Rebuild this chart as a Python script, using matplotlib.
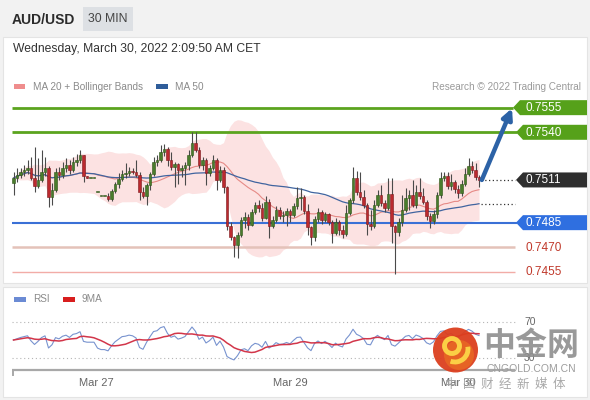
import numpy as np
import pandas as pd
import matplotlib
matplotlib.use("Agg")
import matplotlib.pyplot as plt
from matplotlib.patches import Rectangle, Polygon, Circle, FancyArrowPatch, Arc

plt.rcParams['font.family'] = ['Liberation Sans', 'Noto Sans CJK SC', 'DejaVu Sans']

# ---------------- data ----------------
symbol = "AUD/USD"
interval = "30 MIN"
timestamp = "Wednesday, March 30, 2022 2:09:50 AM CET"

opens = [
    .75092, .75122, .7514, .75159, .75171, .75183, .75122, .75073, .7511, .75159,
    .75183, .75006, .75049, .75159, .7514, .75183, .75201, .75171, .7522, .75232,
    .75262, .75134, .75122, .75122, .75037, .75013, .75013, .75013, .74994, .75043,
    .75086, .75116, .75147, .75153, .75165, .75159, .7514, .75037, .75013, .7508,
    .75147, .7522, .75232, .75281, .75299, .75232, .75189, .75207, .75171, .75183,
    .75201, .75262, .75335, .75293, .75201, .75232, .75153, .75183, .75232, .7511,
    .75171, .75067, .7483, .74763, .74714, .74775, .74866, .74884, .74836, .74915,
    .74958, .74939, .74878, .74976, .7483, .74866, .74927, .74891, .74897, .74921,
    .74897, .74951, .75, .75006, .74921, .74824, .74763, .74872, .74915, .74866,
    .74903, .74854, .74787, .74854, .74805, .74781, .74909, .74988, .75122, .75037,
    .75006, .74958, .74842, .7483, .74958, .75019, .7497, .74939, .75025, .7483,
    .74793, .74854, .74927, .75, .75019, .74958, .75037, .75013, .74976, .74891,
    .7486, .74903, .75019, .75122, .75134, .75073, .75098, .75055, .75031, .75086,
    .75147, .75195, .75171, .75128,
]
highs = [
    .75159, .75183, .75183, .75201, .75232, .7525, .75311, .75244, .75293, .7525,
    .75195, .75092, .75183, .75189, .7522, .75244, .75232, .7525, .75268, .75293,
    .75262, .75134, .75122, .75122, .75037, .75013, .75013, .75031, .75055, .75098,
    .75153, .75171, .75214, .75189, .75183, .75232, .75159, .75067, .75092, .75159,
    .7525, .75262, .75323, .75329, .75311, .75281, .7522, .75214, .75201, .7522,
    .75293, .75402, .75402, .75311, .7525, .75244, .75201, .75262, .75244, .75195,
    .75189, .75073, .74854, .74769, .74793, .74884, .74915, .74903, .74933, .74976,
    .74988, .7497, .75013, .74994, .74891, .74951, .74945, .74921, .74939, .74933,
    .7497, .75067, .75061, .75019, .74964, .7483, .74891, .74939, .74927, .74915,
    .74909, .74866, .74878, .74866, .74836, .74958, .75, .75189, .75165, .75159,
    .75049, .7497, .74927, .74988, .75049, .7508, .74988, .75122, .75122, .74836,
    .74878, .75019, .75061, .75049, .7511, .7508, .75122, .75061, .74988, .74909,
    .74927, .75037, .75159, .75159, .75159, .75147, .7511, .7508, .7511, .75183,
    .75244, .75226, .75214, .7514,
]
lows = [
    .75019, .75098, .75122, .75134, .75147, .7511, .75037, .75061, .75098, .75134,
    .74945, .74958, .75037, .7511, .75122, .75159, .75147, .75159, .75195, .75214,
    .75098, .75122, .75122, .75122, .75037, .75013, .75013, .74982, .74982, .75031,
    .75061, .75104, .75122, .75134, .75147, .75128, .74988, .75, .74958, .75049,
    .75134, .75195, .7522, .75256, .75195, .75171, .75067, .75086, .75128, .7508,
    .75171, .7525, .75281, .75183, .75171, .7508, .75134, .75171, .75049, .75098,
    .75031, .74805, .74745, .74641, .74635, .74763, .74817, .74805, .7483, .74903,
    .74915, .7486, .74872, .74757, .74817, .74854, .74872, .74854, .7483, .74854,
    .74884, .74933, .74927, .74903, .74775, .74714, .74739, .74854, .74842, .74854,
    .74836, .74726, .74775, .74775, .74757, .74769, .74897, .7497, .75019, .74988,
    .74939, .74775, .74805, .74817, .74945, .74951, .74915, .74927, .74726, .74535,
    .74769, .7483, .74915, .74927, .74945, .74939, .74994, .74964, .74866, .74817,
    .74842, .74878, .75, .75104, .75055, .75049, .75031, .75, .75013, .75073,
    .75134, .75153, .7511, .75067,
]
closes = [
    .75122, .7514, .75159, .75171, .75183, .75122, .75073, .7511, .75159, .75183,
    .75006, .75049, .75159, .7514, .75183, .75201, .75171, .7522, .75232, .75262,
    .75134, .75122, .75122, .75122, .75037, .75013, .75013, .74994, .75043, .75086,
    .75116, .75147, .75153, .75165, .75159, .7514, .75037, .75013, .7508, .75147,
    .7522, .75232, .75281, .75299, .75232, .75189, .75207, .75171, .75183, .75201,
    .75262, .75335, .75293, .75201, .75232, .75153, .75183, .75232, .7511, .75171,
    .75067, .7483, .74763, .74714, .74775, .74866, .74884, .74836, .74915, .74958,
    .74939, .74878, .74976, .7483, .74866, .74927, .74891, .74897, .74921, .74897,
    .74951, .75, .75006, .74921, .74824, .74763, .74872, .74915, .74866, .74903,
    .74854, .74787, .74854, .74805, .74781, .74909, .74988, .75122, .75037, .75006,
    .74958, .74842, .7483, .74958, .75019, .7497, .74939, .75025, .7483, .74793,
    .74854, .74927, .75, .75019, .74958, .75037, .75013, .74976, .74891, .7486,
    .74903, .75019, .75122, .75134, .75073, .75098, .75055, .75031, .75086, .75147,
    .75195, .75171, .75128, .7511,
]

resistance_levels = [0.7555, 0.7540]
pivot_level = 0.7485
support_levels = [0.7470, 0.7455]
last_price = 0.7511

day_labels = ["Mar 27", "Mar 29", "Mar 30"]
day_positions = [23.6, 79, 127]      # candle index where each label sits
rsi_levels = [70, 30]

# ---------------- layout helpers ----------------
W, H = 590, 400
PX0, STEP = 13.5, 3.5                 # pixel x of first candle, pixels per candle


def xi(px):
    return (px - PX0) / STEP


o = np.array(opens); h = np.array(highs); l = np.array(lows); c = np.array(closes)
n = len(c)
x = np.arange(n)
cs = pd.Series(c)
ma20 = cs.rolling(20, min_periods=1).mean()
sd20 = cs.rolling(20, min_periods=2).std(ddof=0).fillna(0)
upper = ma20 + 2 * sd20
lower = ma20 - 2 * sd20
ma50 = cs.rolling(50, min_periods=1).mean()

# Wilder RSI(14), started from a neutral state (equal average gain and loss)
delta = np.diff(c, prepend=c[0])
seed = np.abs(delta[1:]).mean() / 2
ag, al = seed, seed
rsi_vals = []
for d in delta:
    ag = (ag * 13 + max(d, 0)) / 14
    al = (al * 13 + max(-d, 0)) / 14
    rsi_vals.append(100 - 100 / (1 + ag / al))
rsi = pd.Series(rsi_vals)
rsi_ma = rsi.rolling(9, min_periods=1).mean()

fig = plt.figure(figsize=(W / 100, H / 100), dpi=100)
fig.patch.set_facecolor('#f2f2f2')

# background panels (pixel coordinates)
bg = fig.add_axes([0, 0, 1, 1], zorder=0)
bg.set_xlim(0, W); bg.set_ylim(H, 0); bg.axis('off')
bg.add_patch(Rectangle((3, 37), 584, 246, fc='white', ec='#e4e4e4', lw=0.8))
bg.add_patch(Rectangle((3, 287), 584, 110, fc='white', ec='#e4e4e4', lw=0.8))
bg.add_patch(Rectangle((83, 7), 50, 24, fc='#dde0e4', ec='none'))
bg.text(12, 19.5, symbol, fontsize=10, fontweight='bold', color='#2b2b2b', va='center')
bg.text(108, 19.5, interval, fontsize=8.8, color='#444444', va='center', ha='center')
bg.text(13, 49, timestamp, fontsize=8.7, color='#333333', va='center')
# legend
bg.add_patch(Rectangle((14, 84), 11, 4.5, fc='#ef8d8d', ec='none'))
bg.text(33, 86.5, "MA 20 + Bollinger Bands", fontsize=7.2, color='#8a8a8a', va='center')
bg.add_patch(Rectangle((156, 84), 12, 4.5, fc='#2f5d9a', ec='none'))
bg.text(175, 86.5, "MA 50", fontsize=7.2, color='#8a8a8a', va='center')
bg.text(581, 86.5, "Research \u00a9 2022 Trading Central", fontsize=7.2, color='#9a9a9a',
        va='center', ha='right')
# RSI legend
bg.add_patch(Rectangle((14, 297), 12, 4.5, fc='#6b8bd4', ec='none'))
bg.text(33, 299.5, "RSI", fontsize=7.2, color='#8a8a8a', va='center')
bg.add_patch(Rectangle((63, 297), 12, 4.5, fc='#d81e1e', ec='none'))
bg.text(82, 299.5, "9MA", fontsize=7.2, color='#8a8a8a', va='center')
# RSI bottom axis line
bg.plot([12, 515], [369.5, 369.5], color='#a8a8a8', lw=1.6, solid_capstyle='butt')
bg.plot([12.8, 12.8], [369.5, 375], color='#a8a8a8', lw=1.4)

# ---------------- main price chart ----------------
ax = fig.add_axes([12 / W, (H - 280) / H, 574 / W, 185 / H], zorder=2)
ax.patch.set_visible(False)
ax.axis('off')
ax.set_xlim(xi(12), xi(586))
ax.set_ylim(0.74501, 0.75627)

ax.fill_between(x, lower, upper, color='#fce2e2', lw=0, zorder=1)
ax.plot(x, ma20, color='#e68a86', lw=0.8, zorder=2)
ax.plot(x, ma50, color='#40649f', lw=0.9, zorder=2)

res_color = '#5ba41e'
ax.hlines(resistance_levels[0], xi(12), xi(513), color=res_color, lw=2, zorder=2)
ax.hlines(resistance_levels[1], xi(12), xi(517), color=res_color, lw=2, zorder=2)
ax.hlines(pivot_level, xi(12), xi(517), color='#3a70d6', lw=1.5, zorder=2)
ax.hlines(support_levels[0], xi(12), xi(515), color='#e4c2b9', lw=1.8, zorder=2)
ax.hlines(support_levels[1], xi(12), xi(515), color='#f2aca7', lw=1.0, zorder=2)

# candles
ppx = (0.75627 - 0.74501) / 185
up = c >= o
bottom = np.minimum(o, c)
height = np.maximum(np.abs(c - o), 1.3 * ppx)
ax.vlines(x, l, h, color='#4a4a4a', lw=0.8, zorder=3)
ax.bar(x[up], height[up], bottom=bottom[up], width=0.72, color='#4a7c2c',
       edgecolor='#2d5417', lw=0.4, zorder=4)
ax.bar(x[~up], height[~up], bottom=bottom[~up], width=0.72, color='#bb2a2f',
       edgecolor='#7c171b', lw=0.4, zorder=4)

# dotted guides to the right
ax.hlines(c[-1], x[-1] + 0.6, xi(515), color='#333333', lw=0.9, linestyles=(0, (1, 2)), zorder=3)
ax.hlines(ma50.iloc[-1], x[-1] + 0.6, xi(515), color='#333333', lw=0.9,
          linestyles=(0, (1, 2)), zorder=3)

# target arrow
arr = FancyArrowPatch((x[-1] + 0.8, c[-1]), (xi(512), resistance_levels[0] - 0.00004),
                      arrowstyle='-|>', mutation_scale=15, lw=3.2, color='#2c62a6',
                      shrinkA=0, shrinkB=0, zorder=6)
ax.add_patch(arr)

fig.canvas.draw()


def level_py(level):
    return H - ax.transData.transform((0, level))[1]


def tag(level, color, tip):
    py = level_py(level)
    poly = Polygon([(tip, py), (tip + 7, py - 7.5), (587, py - 7.5), (587, py + 7.5),
                    (tip + 7, py + 7.5)], closed=True, fc=color, ec='none')
    bg.add_patch(poly)
    bg.text(525, py + 0.5, f"{level:.4f}", color='white', fontsize=8.5, va='center')


tag(resistance_levels[0], '#56a11a', 513)
tag(resistance_levels[1], '#56a11a', 516)
tag(last_price, '#2e2e2e', 516)
tag(pivot_level, '#2f6fe0', 516)
for lv in support_levels:
    bg.text(525, level_py(lv) + 0.5, f"{lv:.4f}", color='#c0392b', fontsize=8.5, va='center')

# ---------------- RSI panel ----------------
axr = fig.add_axes([12 / W, (H - 369) / H, 574 / W, 64 / H], zorder=2)
axr.patch.set_visible(False)
axr.axis('off')
axr.set_xlim(xi(12), xi(586))
axr.set_ylim(17.8, 88.9)
axr.hlines(rsi_levels, xi(12), xi(515), colors='#b5b5b5', lw=0.8, linestyles=(0, (1, 2.5)))
axr.plot(x, rsi, color='#7893cf', lw=0.8)
axr.plot(x, rsi_ma, color='#d2364a', lw=1.1)
for lv in rsi_levels:
    axr.text(xi(524), lv, str(lv), fontsize=7.5, color='#666666', va='center')
for pos, lab in zip(day_positions, day_labels):
    axr.text(pos, -0.22, lab, transform=axr.get_xaxis_transform(), fontsize=8,
             color='#666666', ha='center', va='center')

# ---------------- watermark ----------------
wm = fig.add_axes([0, 0, 1, 1], zorder=10)
wm.set_xlim(0, W); wm.set_ylim(H, 0); wm.axis('off'); wm.patch.set_visible(False)
wm.add_patch(Circle((455.5, 350), 22.5, fc='#dc3f1e', ec='none', alpha=0.95))
wm.add_patch(Circle((459, 355), 15, fc='#ee7a20', ec='none', alpha=0.55))
wm.add_patch(Circle((452, 346), 7.5, fc='none', ec='#fbcf45', lw=3.5))
wm.add_patch(Arc((455, 349), 26, 26, theta1=-10, theta2=110, color='#fbcf45', lw=3.5))
wm.text(531, 346, "中金网", fontsize=23, fontweight='bold', color='#8e8e8e',
        family=['Noto Sans CJK SC'], ha='center', va='center', alpha=0.9)
wm.text(531, 369, "CNGOLD.COM.CN", fontsize=7.5, color='#9c9c9c', ha='center', va='center')
wm.text(505, 384, "中  国  财  经  新  媒  体", fontsize=9, color='#a0a0a0',
        family=['Noto Sans CJK SC'], ha='center', va='center', alpha=0.9)

fig.savefig('out.png', dpi=100, facecolor=fig.get_facecolor())
